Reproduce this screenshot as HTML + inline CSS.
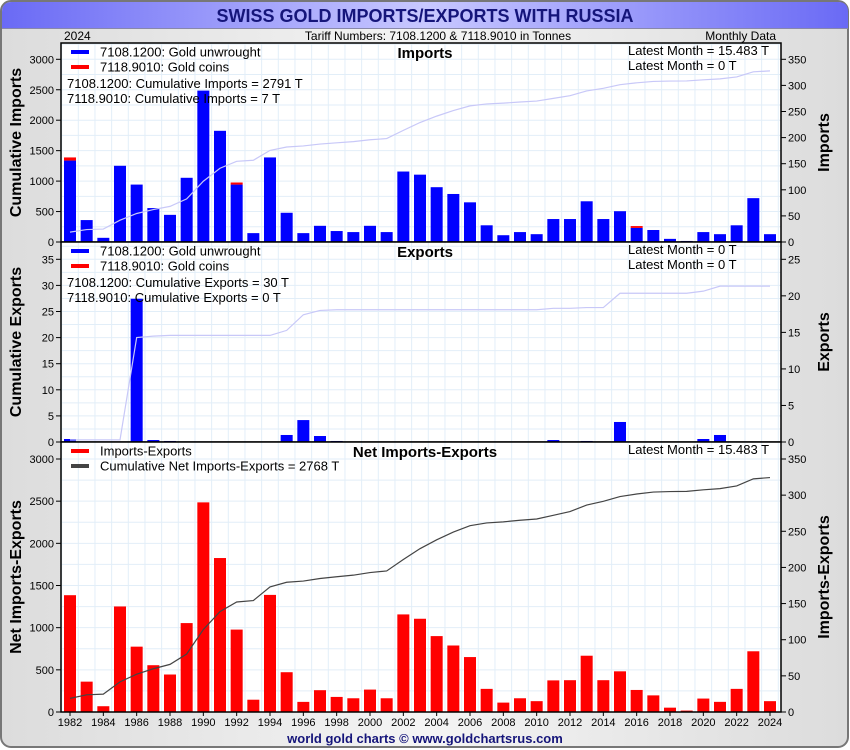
<!DOCTYPE html>
<html><head><meta charset="utf-8"><style>
html,body{margin:0;padding:0;background:#fff;}
svg{display:block;font-family:"Liberation Sans",sans-serif;}
</style></head><body>
<svg id="c" width="850" height="750" xmlns="http://www.w3.org/2000/svg">
<defs>
<linearGradient id="tg" x1="0" x2="1" y1="0" y2="0"><stop offset="0" stop-color="#6a6af5"/><stop offset="0.5" stop-color="#c8c8ff"/><stop offset="1" stop-color="#6a6af5"/></linearGradient>
<linearGradient id="bg" x1="0" x2="1" y1="0" y2="0"><stop offset="0" stop-color="#dcdcdc"/><stop offset="0.5" stop-color="#f4f4f4"/><stop offset="1" stop-color="#dcdcdc"/></linearGradient>
</defs>
<rect x="1" y="1" width="847" height="746" rx="10" fill="url(#bg)" stroke="#777" stroke-width="2"/>
<path d="M2,28 L2,12 Q2,2 12,2 L838,2 Q848,2 848,12 L848,28 Z" fill="url(#tg)"/>
<line x1="2" y1="28.5" x2="848" y2="28.5" stroke="#8888aa"/>
<text x="425" y="22" text-anchor="middle" font-size="18" font-weight="bold" fill="#15157a">SWISS GOLD IMPORTS/EXPORTS WITH RUSSIA</text>
<text x="64" y="40" font-size="12">2024</text>
<text x="438" y="40" text-anchor="middle" font-size="12">Tariff Numbers: 7108.1200 &amp; 7118.9010 in Tonnes</text>
<text x="776" y="40" text-anchor="end" font-size="12">Monthly Data</text>
<text x="425" y="743" text-anchor="middle" font-size="13" font-weight="bold" fill="#15157a">world gold charts © www.goldchartsrus.com</text>
<g id="g"></g>
</svg>
<script>
const years = [];
for (let y = 1982; y <= 2024; y++) years.push(y);
const importsGold = [156,42,8,146,110,65,52,123,290,213,110,17,162,56,17,31,21,19,31,19,135,129,105,92,76,32,13,19,15,44,44,78,44,59,27,23,6,2,19,15,32,84,15];
const importsCoins = [6,0,0,0,0,0,0,0,0,0,4,0,0,0,0,0,0,0,0,0,0,0,0,0,0,0,0,0,0,0,0,0,0,0,3.5,0,0,0,0,0,0,0,0];
const exportsGold = [0.41,0,0,0,19.6,0.27,0.14,0,0,0,0,0,0,0.96,3.0,0.82,0.14,0,0,0,0,0,0,0,0,0,0,0,0,0.27,0,0.14,0,2.74,0,0,0,0,0.41,0.96,0,0,0];
const xTickYears = [1982,1984,1986,1988,1990,1992,1994,1996,1998,2000,2002,2004,2006,2008,2010,2012,2014,2016,2018,2020,2022,2024];
const impLeftTicks = [0,500,1000,1500,2000,2500,3000];
const impRightTicks = [0,50,100,150,200,250,300,350];
const expLeftTicks = [0,5,10,15,20,25,30,35];
const expRightTicks = [0,5,10,15,20,25];
const netLeftTicks = [0,500,1000,1500,2000,2500,3000];
const netRightTicks = [0,50,100,150,200,250,300,350];

const NS = "http://www.w3.org/2000/svg";
const G = document.getElementById('g');
function mk(tag, attrs, parent, text) {
  const e = document.createElementNS(NS, tag);
  for (const k in attrs) e.setAttribute(k, attrs[k]);
  if (text !== undefined) e.textContent = text;
  (parent || G).appendChild(e);
  return e;
}
const PL = 61, PR = 781;
const x = yr => 70 + (yr - 1982) * (700 / 42);
const BW = 12;
function cumsum(a) { let s = 0; return a.map(v => (s += v)); }

function panel(o) {
  const yl = v => o.zero - v * o.kL;
  const yr = v => o.zero - v * o.kR;
  const bg = mk('rect', {x: PL, y: o.top, width: PR - PL, height: o.zero - o.top, fill: '#fff'});
  
  
  for (let i = 0; i < years.length + 1; i++) {
    const gx = x(1982) + 8.3 + (i - 1) * (700 / 42);
    if (gx <= PL || gx >= PR) continue;
    const l = mk('line', {x1: gx, x2: gx, y1: o.top, y2: o.zero, stroke: '#e2eef8', 'stroke-width': 1});
    
    
  }
  for (let v = o.gridStep; yl(v) > o.top; v += o.gridStep) {
    const l = mk('line', {x1: PL, x2: PR, y1: yl(v), y2: yl(v), stroke: '#e2eef8', 'stroke-width': 1});
    
    
  }
  o.bars.forEach(b => {
    b.values.forEach((v, i) => {
      if (!v) return;
      const base = b.base ? b.base[i] : 0;
      const r = mk('rect', {x: x(years[i]) - BW / 2, y: yr(base + v), width: BW, height: v * o.kR, fill: b.color});
      
      
    });
  });
  const pts = o.line.map((v, i) => x(years[i]) + ',' + yl(v)).join(' ');
  const pl = mk('polyline', {points: pts, fill: 'none', stroke: o.lineColor, 'stroke-width': o.lineW});
  
  
  const bd = mk('rect', {x: PL, y: o.top, width: PR - PL, height: o.zero - o.top, fill: 'none', stroke: '#000', 'stroke-width': 1.5});
  
  
  o.leftTicks.forEach(v => {
    mk('line', {x1: PL - 5, x2: PL, y1: yl(v), y2: yl(v), stroke: '#000'});
    const t = mk('text', {x: PL - 7, y: yl(v) + 4, 'text-anchor': 'end', 'font-size': 11}, G, v);
    
    
  });
  o.rightTicks.forEach(v => {
    mk('line', {x1: PR, x2: PR + 5, y1: yr(v), y2: yr(v), stroke: '#000'});
    const t = mk('text', {x: PR + 7, y: yr(v) + 4, 'font-size': 11}, G, v);
    
    
  });
  const cy = (o.top + o.zero) / 2;
  const lt = mk('text', {x: 0, y: 0, transform: 'translate(21,' + cy + ') rotate(-90)', 'text-anchor': 'middle', 'font-size': 16, 'font-weight': 'bold'}, G, o.leftTitle);
  
  
  const rt = mk('text', {x: 0, y: 0, transform: 'translate(829,' + cy + ') rotate(-90)', 'text-anchor': 'middle', 'font-size': 16, 'font-weight': 'bold'}, G, o.rightTitle);
  
  
  const pt = mk('text', {x: 425, y: o.top + 15, 'text-anchor': 'middle', 'font-size': 15, 'font-weight': 'bold'}, G, o.title);
  
  
  o.legend.forEach((L, i) => {
    const ly = o.top + 9 + i * 15;
    const sw = mk('rect', {x: 71, y: ly - 2, width: 18, height: 4, fill: L.color});
    
    
    const t = mk('text', {x: 100, y: ly + 4.5, 'font-size': 13}, G, L.label);
    
    
  });
  o.notes.forEach((n, i) => {
    const t = mk('text', {x: 67, y: o.top + 45 + i * 15, 'font-size': 13}, G, n);
    
    
  });
  o.latest.forEach((n, i) => {
    const t = mk('text', {x: 628, y: o.top + 12 + i * 15, 'font-size': 13}, G, n);
    
    
  });
}

const impTotal = importsGold.map((v, i) => v + importsCoins[i]);
const net = impTotal.map((v, i) => v - exportsGold[i]);

panel({id: 'imports', top: 43, zero: 242, kL: 182.7 / 3000, kR: 182.7 / 350, gridStep: 250,
  bars: [{name: 'gold-unwrought', values: importsGold, color: '#0000ff'},
         {name: 'gold-coins', values: importsCoins, base: importsGold, color: '#ff0000'}],
  line: cumsum(impTotal), lineColor: '#c8c8f8', lineW: 1.2,
  leftTicks: impLeftTicks, rightTicks: impRightTicks,
  leftTitle: 'Cumulative Imports', rightTitle: 'Imports', title: 'Imports',
  legend: [{color: '#0000ff', label: '7108.1200: Gold unwrought'}, {color: '#ff0000', label: '7118.9010: Gold coins'}],
  notes: ['7108.1200: Cumulative Imports = 2791 T', '7118.9010: Cumulative Imports = 7 T'],
  latest: ['Latest Month = 15.483 T', 'Latest Month = 0 T']});

panel({id: 'exports', top: 242, zero: 442, kL: 182.7 / 35, kR: 182.7 / 25, gridStep: 2.5,
  bars: [{name: 'export-gold-unwrought', values: exportsGold, color: '#0000ff'}],
  line: cumsum(exportsGold), lineColor: '#c8c8f8', lineW: 1.2,
  leftTicks: expLeftTicks, rightTicks: expRightTicks,
  leftTitle: 'Cumulative Exports', rightTitle: 'Exports', title: 'Exports',
  legend: [{color: '#0000ff', label: '7108.1200: Gold unwrought'}, {color: '#ff0000', label: '7118.9010: Gold coins'}],
  notes: ['7108.1200: Cumulative Exports = 30 T', '7118.9010: Cumulative Exports = 0 T'],
  latest: ['Latest Month = 0 T', 'Latest Month = 0 T']});

panel({id: 'net', top: 442, zero: 712, kL: 253 / 3000, kR: 253 / 350, gridStep: 250,
  bars: [{name: 'net-imports-exports', values: net, color: '#ff0000'}],
  line: cumsum(net), lineColor: '#444', lineW: 1.2,
  leftTicks: netLeftTicks, rightTicks: netRightTicks,
  leftTitle: 'Net Imports-Exports', rightTitle: 'Imports-Exports', title: 'Net Imports-Exports',
  legend: [{color: '#ff0000', label: 'Imports-Exports'}, {color: '#444', label: 'Cumulative Net Imports-Exports = 2768 T'}],
  notes: [], latest: ['Latest Month = 15.483 T']});

xTickYears.forEach(yv => {
  mk('line', {x1: x(yv), x2: x(yv), y1: 712, y2: 716, stroke: '#000'});
  const t = mk('text', {x: x(yv), y: 726, 'text-anchor': 'middle', 'font-size': 11}, G, yv);
  
  
});
</script>
</body></html>
